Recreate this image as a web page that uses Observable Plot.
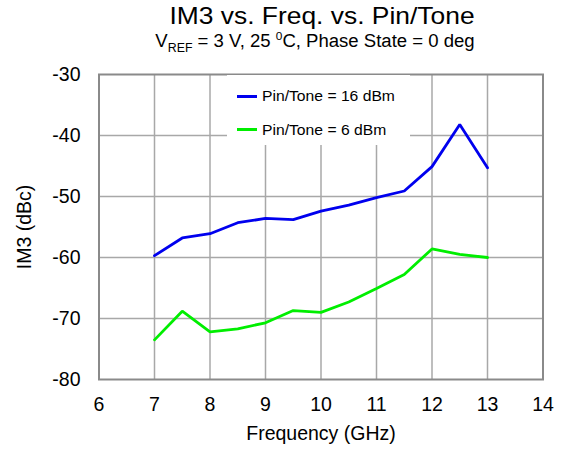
<!DOCTYPE html>
<html><head><meta charset="utf-8">
<script src="https://cdn.jsdelivr.net/npm/d3@7"></script>
<script src="https://cdn.jsdelivr.net/npm/@observablehq/plot@0.6"></script>
<style>
body{margin:0;background:#fff;font-family:"Liberation Sans",Arial,sans-serif;}
#wrap{position:relative;width:564px;height:450px;}
.t{position:absolute;white-space:nowrap;line-height:1;color:#000;transform-origin:center;}
#title{left:322px;top:3.7px;font-size:24px;transform:translateX(-50%) scaleX(1.1);}
#sub{left:315px;top:31.5px;font-size:18px;transform:translateX(-50%) scaleX(1.03);}
.sb{position:relative;top:5px;font-size:12px;}
.sp{position:relative;top:-7px;font-size:11.5px;}
#legend{position:absolute;left:227px;top:75px;width:183px;height:70px;background:#fff;}
.li{position:absolute;left:10px;height:16px;}
.li .sw{position:absolute;left:0;top:6.5px;width:20px;height:3px;}
.li .lt{position:absolute;left:25px;top:0;font-size:14px;line-height:16px;white-space:nowrap;transform-origin:left center;transform:scaleX(1.12);}
</style></head>
<body><div id="wrap">
<div id="title" class="t">IM3 vs. Freq. vs. Pin/Tone</div>
<div id="sub" class="t">V<span class="sb">REF</span> = 3 V, 25 <span class="sp">0</span>C, Phase State = 0 deg</div>
</div>
<script>
const freq = [7, 7.5, 8, 8.5, 9, 9.5, 10, 10.5, 11, 11.5, 12, 12.5, 13];
const im3_16dBm = [-59.7, -56.8, -56.1, -54.3, -53.6, -53.8, -52.4, -51.4, -50.2, -49.1, -45.1, -38.2, -45.3];
const im3_6dBm = [-73.5, -68.8, -72.2, -71.7, -70.7, -68.7, -69.0, -67.3, -65.1, -62.8, -58.6, -59.5, -60.0];
const seriesNames = ["Pin/Tone = 16 dBm", "Pin/Tone = 6 dBm"];
const seriesColors = ["#0000ee", "#00ee00"];
const xTicks = [6, 7, 8, 9, 10, 11, 12, 13, 14];
const yTicks = [-80, -70, -60, -50, -40, -30];

const data = [];
freq.forEach((f, i) => {
  data.push({f, v: im3_16dBm[i], s: seriesNames[0]});
  data.push({f, v: im3_6dBm[i], s: seriesNames[1]});
});

const chart = Plot.plot({
  width: 564, height: 450,
  marginLeft: 98.5, marginRight: 21.5, marginTop: 74, marginBottom: 71,
  style: {fontFamily: "'Liberation Sans', Arial, sans-serif", fontSize: "19.5px", color: "#000", background: "transparent"},
  x: {domain: [6, 14], ticks: xTicks, tickSize: 0, tickPadding: 18, tickFormat: d => String(d),
      label: "Frequency (GHz)", labelAnchor: "center", labelArrow: "none", labelOffset: 60},
  y: {domain: [-80, -30], ticks: yTicks, tickSize: 0, tickPadding: 18.5, tickFormat: d => String(d),
      label: "IM3 (dBc)", labelAnchor: "center", labelArrow: "none", labelOffset: 82},
  color: {domain: seriesNames, range: seriesColors},
  marks: [
    Plot.ruleX(xTicks.slice(1, -1), {stroke: "#a8a8a8", strokeWidth: 1.5}),
    Plot.ruleY(yTicks.slice(1, -1), {stroke: "#a8a8a8", strokeWidth: 1.5}),
    Plot.frame({stroke: "#8a8a8a", strokeWidth: 2}),
    Plot.line(data, {x: "f", y: "v", z: "s", stroke: "s", strokeWidth: 2.8, strokeLinejoin: "miter"})
  ]
});
const wrap = document.getElementById("wrap");
chart.style.position = "absolute";
chart.style.left = "0"; chart.style.top = "0";
wrap.insertBefore(chart, wrap.firstChild);

const leg = document.createElement("div");
leg.id = "legend";
seriesNames.forEach((n, i) => {
  const d = document.createElement("div");
  d.className = "li";
  d.style.top = (i === 0 ? 13 : 46.5) + "px";
  d.innerHTML = `<span class="sw" style="background:${seriesColors[i]}"></span><span class="lt">${n}</span>`;
  leg.appendChild(d);
});
wrap.appendChild(leg);
</script>
</body></html>
